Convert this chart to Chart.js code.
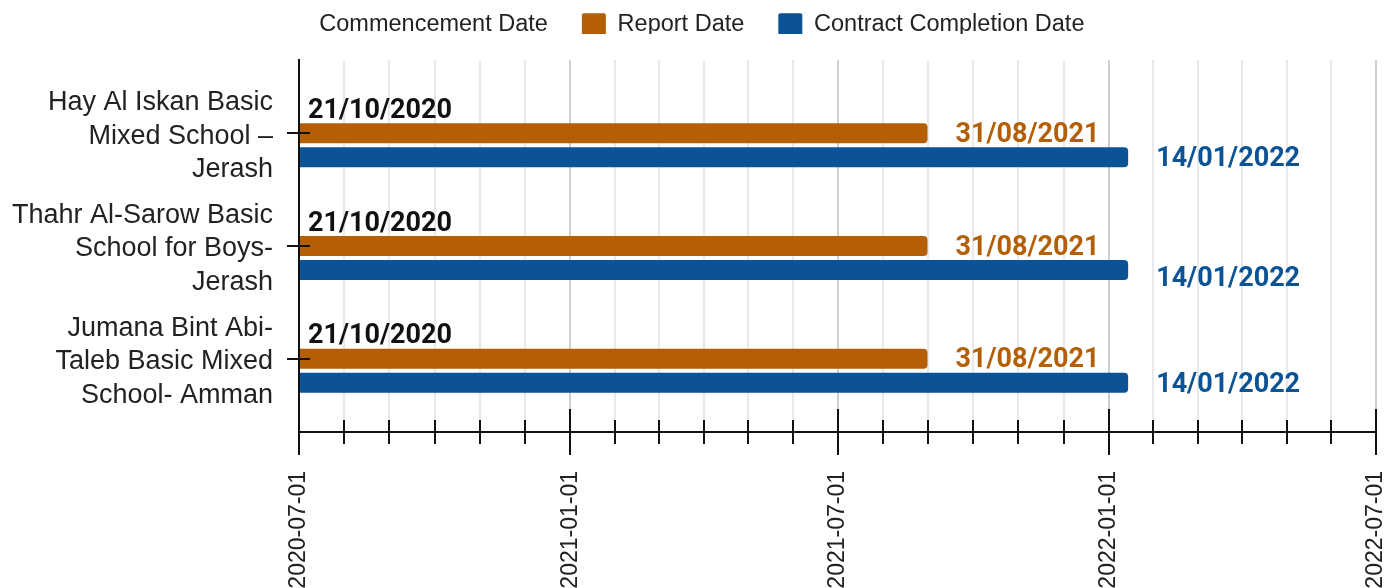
<!DOCTYPE html>
<html>
<head>
<meta charset="utf-8">
<script src="https://cdn.jsdelivr.net/npm/chart.js@4.4.1/dist/chart.umd.min.js"></script>
<style>
  html, body { margin: 0; padding: 0; background: #fff; }
  #wrap { width: 1398px; height: 588px; position: relative; }
</style>
</head>
<body>
<div id="wrap"><canvas id="chart"></canvas></div>
<script>
// school names, already split into the lines shown on the axis
const categories = [
  ['Hay Al Iskan Basic', 'Mixed School –', 'Jerash'],
  ['Thahr Al-Sarow Basic', 'School for Boys-', 'Jerash'],
  ['Jumana Bint Abi-', 'Taleb Basic Mixed', 'School- Amman']
];
const seriesNames = ['Commencement Date', 'Report Date', 'Contract Completion Date'];
const commencementDates = ['2020-10-21', '2020-10-21', '2020-10-21'];
const reportDates = ['2021-08-31', '2021-08-31', '2021-08-31'];
const completionDates = ['2022-01-14', '2022-01-14', '2022-01-14'];
const axisTicks = ['2020-07-01', '2021-01-01', '2021-07-01', '2022-01-01', '2022-07-01'];

const ORANGE = '#b45f06';
const BLUE = '#0b5394';

function toMs(s) {
  const p = s.split('-').map(Number);
  return Date.UTC(p[0], p[1] - 1, p[2]);
}
function pad(n) { return String(n).padStart(2, '0'); }
function isoDay(ms) {
  const d = new Date(ms);
  return d.getUTCFullYear() + '-' + pad(d.getUTCMonth() + 1) + '-' + pad(d.getUTCDate());
}
function dmy(s) {
  const p = s.split('-');
  return p[2] + '/' + p[1] + '/' + p[0];
}

const xMin = toMs(axisTicks[0]);
const xMax = toMs(axisTicks[axisTicks.length - 1]);

function points(dates) {
  return dates.map((d, i) => ({ x: toMs(d), y: i }));
}

// labels next to the bars
const barLabels = {
  id: 'barLabels',
  afterDatasetsDraw(chart) {
    const ctx = chart.ctx;
    const colors = ['#111', ORANGE, BLUE];
    const sources = [commencementDates, reportDates, completionDates];
    ctx.save();
    ctx.font = 'bold 27px Roboto, "Liberation Sans", sans-serif';
    ctx.textBaseline = 'middle';
    ctx.textAlign = 'left';
    chart.data.datasets.forEach((ds, i) => {
      chart.getDatasetMeta(i).data.forEach((bar, j) => {
        ctx.fillStyle = colors[i];
        let y = bar.y + 2;
        if (i === 2 && j === 1) y += 7;
        const x = i === 0 ? bar.base + 8 : bar.x + 28;
        ctx.fillText(dmy(sources[i][j]), x, y);
      });
    });
    ctx.restore();
  }
};

// tick marks crossing both axes
const tickMarks = {
  id: 'tickMarks',
  afterDraw(chart) {
    const { ctx, scales: { x, y } } = chart;
    ctx.save();
    ctx.strokeStyle = '#111';
    ctx.lineWidth = 2;
    const ay = Math.round(x.top);
    x.ticks.forEach(t => {
      const px = Math.round(x.getPixelForValue(t.value));
      const len = t.major ? 23 : 12;
      ctx.beginPath();
      ctx.moveTo(px, ay - len);
      ctx.lineTo(px, ay + len);
      ctx.stroke();
    });
    const ax = Math.round(y.right);
    y.ticks.forEach(t => {
      const py = Math.round(y.getPixelForValue(t.value));
      ctx.beginPath();
      ctx.moveTo(ax - 12, py);
      ctx.lineTo(ax + 11, py);
      ctx.stroke();
    });
    ctx.restore();
  }
};

// pull the legend up closer to the top edge
const legendUp = {
  id: 'legendUp',
  afterLayout(chart) {
    const lg = chart.legend;
    if (!lg) return;
    lg.top -= 26;
    lg.bottom -= 26;
  }
};

Chart.defaults.font.family = '"Liberation Sans", Arial, sans-serif';
Chart.defaults.color = '#222';

const barCommon = {
  base: xMin,
  categoryPercentage: 0.64,
  barPercentage: 0.83,
  borderWidth: 0,
  borderSkipped: 'start',
  borderRadius: 4
};

new Chart(document.getElementById('chart'), {
  type: 'bar',
  data: {
    datasets: [
      Object.assign({ label: seriesNames[0], data: points(commencementDates), backgroundColor: 'rgba(0,0,0,0)' }, barCommon),
      Object.assign({ label: seriesNames[1], data: points(reportDates), backgroundColor: ORANGE }, barCommon),
      Object.assign({ label: seriesNames[2], data: points(completionDates), backgroundColor: BLUE }, barCommon)
    ]
  },
  options: {
    indexAxis: 'y',
    responsive: true,
    maintainAspectRatio: false,
    animation: false,
    layout: { padding: { top: 0, right: 22, left: -8, bottom: 0 } },
    plugins: {
      tooltip: { enabled: false },
      legend: {
        position: 'top',
        maxHeight: 55,
        labels: {
          font: { size: 23.5 },
          color: '#222',
          boxWidth: 24,
          boxHeight: 23,
          padding: 34,
          useBorderRadius: true,
          borderRadius: 2
        }
      }
    },
    scales: {
      x: {
        type: 'linear',
        min: xMin,
        max: xMax,
        afterBuildTicks(scale) {
          const ticks = [];
          axisTicks.forEach((d, i) => {
            const v = toMs(d);
            ticks.push({ value: v, major: true });
            if (i < axisTicks.length - 1) {
              const next = toMs(axisTicks[i + 1]);
              for (let k = 1; k < 6; k++) ticks.push({ value: v + (next - v) * k / 6, major: false });
            }
          });
          scale.ticks = ticks;
        },
        afterFit(scale) {
          scale.height = 156;
          scale.paddingLeft = 0;
          scale.paddingRight = 0;
        },
        ticks: {
          autoSkip: false,
          minRotation: 90,
          maxRotation: 90,
          padding: 39,
          font: { size: 23 },
          color: '#222',
          callback(value, index, ticks) {
            return ticks[index] && ticks[index].major ? isoDay(value) : '';
          }
        },
        grid: {
          drawTicks: false,
          lineWidth: 2,
          color(ctx) { return ctx.tick && ctx.tick.major ? '#cfcfcf' : '#e9e9e9'; }
        },
        border: { display: true, color: '#111', width: 2 }
      },
      y: {
        type: 'linear',
        offset: false,
        reverse: true,
        min: -0.65,
        max: 2.65,
        afterBuildTicks(scale) {
          scale.ticks = categories.map((c, i) => ({ value: i }));
        },
        afterFit(scale) {
          scale.width = 307;
          scale.paddingTop = 60;
          scale.paddingBottom = 0;
        },
        ticks: {
          autoSkip: false,
          padding: 26,
          labelOffset: 3,
          font: { size: 27, lineHeight: 1.24 },
          color: '#222',
          callback(value) { return categories[value]; }
        },
        grid: { drawOnChartArea: false, drawTicks: false, offset: false },
        border: { display: true, color: '#111', width: 2 }
      }
    }
  },
  plugins: [barLabels, tickMarks, legendUp]
});
</script>
</body>
</html>
